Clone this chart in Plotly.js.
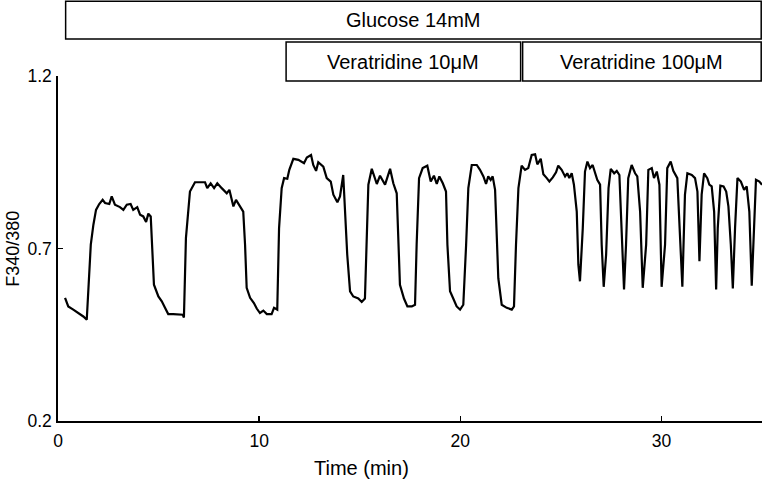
<!DOCTYPE html>
<html>
<head>
<meta charset="utf-8">
<script src="https://cdn.plot.ly/plotly-3.0.1.min.js"></script>
<style>
html,body{margin:0;padding:0;background:#fff;}
#chart{width:763px;height:483px;}
</style>
</head>
<body>
<div id="chart"></div>
<script>
// Time (min)
var timeMin = [0.35,0.51,0.76,1.01,1.26,1.43,1.51,1.63,1.76,1.89,2.05,2.22,2.34,2.55,2.67,2.83,3.08,3.25,3.42,3.61,3.74,3.94,4.08,4.24,4.38,4.49,4.61,4.69,4.77,4.99,5.16,5.32,5.48,5.73,6.20,6.26,6.36,6.56,6.81,7.06,7.31,7.42,7.59,7.76,7.92,8.14,8.39,8.52,8.72,8.85,9.05,9.21,9.30,9.38,9.55,9.74,9.88,10.04,10.21,10.38,10.62,10.74,10.90,10.99,11.12,11.24,11.40,11.50,11.70,11.95,12.23,12.37,12.58,12.69,12.83,12.94,13.19,13.36,13.56,13.69,13.89,14.02,14.18,14.27,14.38,14.52,14.68,14.93,15.10,15.26,15.35,15.43,15.60,15.85,16.01,16.26,16.51,16.67,16.84,16.92,17.00,17.20,17.37,17.59,17.75,17.83,17.95,18.13,18.36,18.53,18.69,18.83,18.96,19.13,19.29,19.36,19.49,19.65,19.82,19.99,20.15,20.29,20.40,20.57,20.82,20.98,21.15,21.28,21.39,21.51,21.61,21.73,21.81,21.89,22.06,22.31,22.56,22.67,22.77,22.89,23.05,23.22,23.38,23.55,23.72,23.83,24.00,24.13,24.30,24.43,24.60,24.76,24.87,25.04,25.21,25.32,25.42,25.54,25.65,25.79,25.87,25.95,26.09,26.20,26.32,26.45,26.58,26.70,26.81,26.95,27.03,27.13,27.25,27.37,27.48,27.65,27.78,27.91,28.03,28.14,28.24,28.35,28.52,28.69,28.80,28.94,29.07,29.24,29.35,29.52,29.63,29.77,29.90,30.01,30.18,30.29,30.46,30.59,30.79,30.92,31.04,31.17,31.29,31.51,31.67,31.79,31.89,32.00,32.12,32.28,32.38,32.50,32.62,32.72,32.80,32.93,33.09,33.22,33.33,33.45,33.55,33.66,33.78,33.95,34.11,34.24,34.37,34.49,34.60,34.70,34.87,35.00];
// F340/380 ratio
var ratio = [0.557,0.532,0.523,0.514,0.503,0.494,0.595,0.711,0.769,0.812,0.829,0.841,0.832,0.829,0.851,0.827,0.820,0.812,0.827,0.829,0.812,0.820,0.798,0.793,0.777,0.801,0.793,0.711,0.595,0.561,0.547,0.528,0.510,0.510,0.508,0.500,0.730,0.865,0.892,0.892,0.892,0.875,0.889,0.875,0.889,0.875,0.860,0.870,0.822,0.841,0.822,0.807,0.711,0.586,0.557,0.542,0.526,0.513,0.520,0.510,0.510,0.528,0.523,0.759,0.875,0.904,0.902,0.928,0.960,0.957,0.947,0.964,0.971,0.942,0.925,0.950,0.937,0.904,0.894,0.856,0.834,0.851,0.913,0.798,0.682,0.576,0.561,0.555,0.545,0.555,0.711,0.885,0.931,0.887,0.911,0.885,0.931,0.889,0.860,0.711,0.595,0.555,0.532,0.532,0.537,0.711,0.904,0.933,0.940,0.894,0.911,0.887,0.909,0.889,0.865,0.711,0.576,0.555,0.532,0.523,0.537,0.711,0.875,0.942,0.942,0.928,0.909,0.887,0.909,0.899,0.909,0.870,0.759,0.614,0.537,0.528,0.523,0.532,0.711,0.875,0.940,0.928,0.933,0.971,0.973,0.944,0.960,0.915,0.904,0.894,0.906,0.921,0.940,0.928,0.909,0.918,0.904,0.918,0.885,0.807,0.653,0.605,0.759,0.923,0.952,0.933,0.942,0.918,0.899,0.885,0.711,0.589,0.682,0.875,0.931,0.918,0.925,0.913,0.711,0.581,0.711,0.904,0.942,0.918,0.909,0.807,0.586,0.711,0.928,0.933,0.904,0.923,0.885,0.589,0.711,0.933,0.952,0.925,0.904,0.759,0.589,0.856,0.918,0.913,0.904,0.865,0.663,0.856,0.918,0.904,0.885,0.880,0.807,0.581,0.759,0.882,0.880,0.865,0.822,0.711,0.584,0.759,0.904,0.894,0.870,0.880,0.807,0.592,0.759,0.899,0.894,0.885];

var xTickVals = [0, 10, 20, 30];
var yTickVals = [0.2, 0.7, 1.2];
var xTitle = "Time (min)";
var yTitle = "F340/380";

// Treatment bars: label, start, end (min), row
var treatLabels = ["Glucose 14mM", "Veratridine 10μM", "Veratridine 100μM"];
var treatStart = [0.38, 11.34, 23.1];
var treatEnd = [34.96, 23.0, 34.96];
var treatRow = [0, 1, 1];

var font = "'Liberation Sans', Arial, Helvetica, sans-serif";
var rowY = [[1.107, 1.217], [0.9855, 1.0984]];

var shapes = [], annotations = [];
for (var i = 0; i < treatLabels.length; i++) {
  var r = rowY[treatRow[i]];
  shapes.push({type: 'rect', xref: 'x', yref: 'paper', x0: treatStart[i], x1: treatEnd[i], y0: r[0], y1: r[1],
    line: {color: '#000', width: 1.5}, fillcolor: '#fff', layer: 'above'});
  annotations.push({xref: 'x', yref: 'paper', x: (treatStart[i] + treatEnd[i]) / 2, y: (r[0] + r[1]) / 2,
    text: treatLabels[i], showarrow: false, xanchor: 'center', yanchor: 'middle',
    font: {family: font, size: 20, color: '#000'}});
}
annotations.push({xref: 'x', yref: 'paper', x: 15.1, y: -0.136, text: xTitle, showarrow: false,
  xanchor: 'center', yanchor: 'middle', font: {family: font, size: 20, color: '#000'}});
annotations.push({xref: 'paper', yref: 'paper', x: -0.065, y: 0.5, text: yTitle, textangle: -90, showarrow: false,
  xanchor: 'center', yanchor: 'middle', font: {family: font, size: 18, color: '#000'}});

var trace = {x: timeMin, y: ratio, type: 'scatter', mode: 'lines',
  line: {color: '#000', width: 2.2}, hoverinfo: 'skip', cliponaxis: false};

var layout = {
  width: 763, height: 483,
  margin: {l: 58, r: 1, t: 76, b: 62, pad: 0},
  paper_bgcolor: '#fff', plot_bgcolor: '#fff',
  showlegend: false,
  font: {family: font, size: 17, color: '#000'},
  xaxis: {range: [0, 35], tickvals: xTickVals, ticks: 'inside', ticklen: 5, tickwidth: 1.5, tickcolor: '#000',
    showline: true, linecolor: '#000', linewidth: 1.7, showgrid: false, zeroline: false, ticklabelstandoff: 3,
    tickfont: {family: font, size: 17.5, color: '#000'}},
  yaxis: {range: [0.2, 1.2], tickvals: yTickVals, ticks: 'inside', ticklen: 5, tickwidth: 1.5, tickcolor: '#000',
    showline: true, linecolor: '#000', linewidth: 1.7, showgrid: false, zeroline: false, ticklabelstandoff: 1,
    tickfont: {family: font, size: 17.5, color: '#000'}},
  shapes: shapes,
  annotations: annotations
};

Plotly.newPlot('chart', [trace], layout, {displayModeBar: false, staticPlot: true});
</script>
</body>
</html>
